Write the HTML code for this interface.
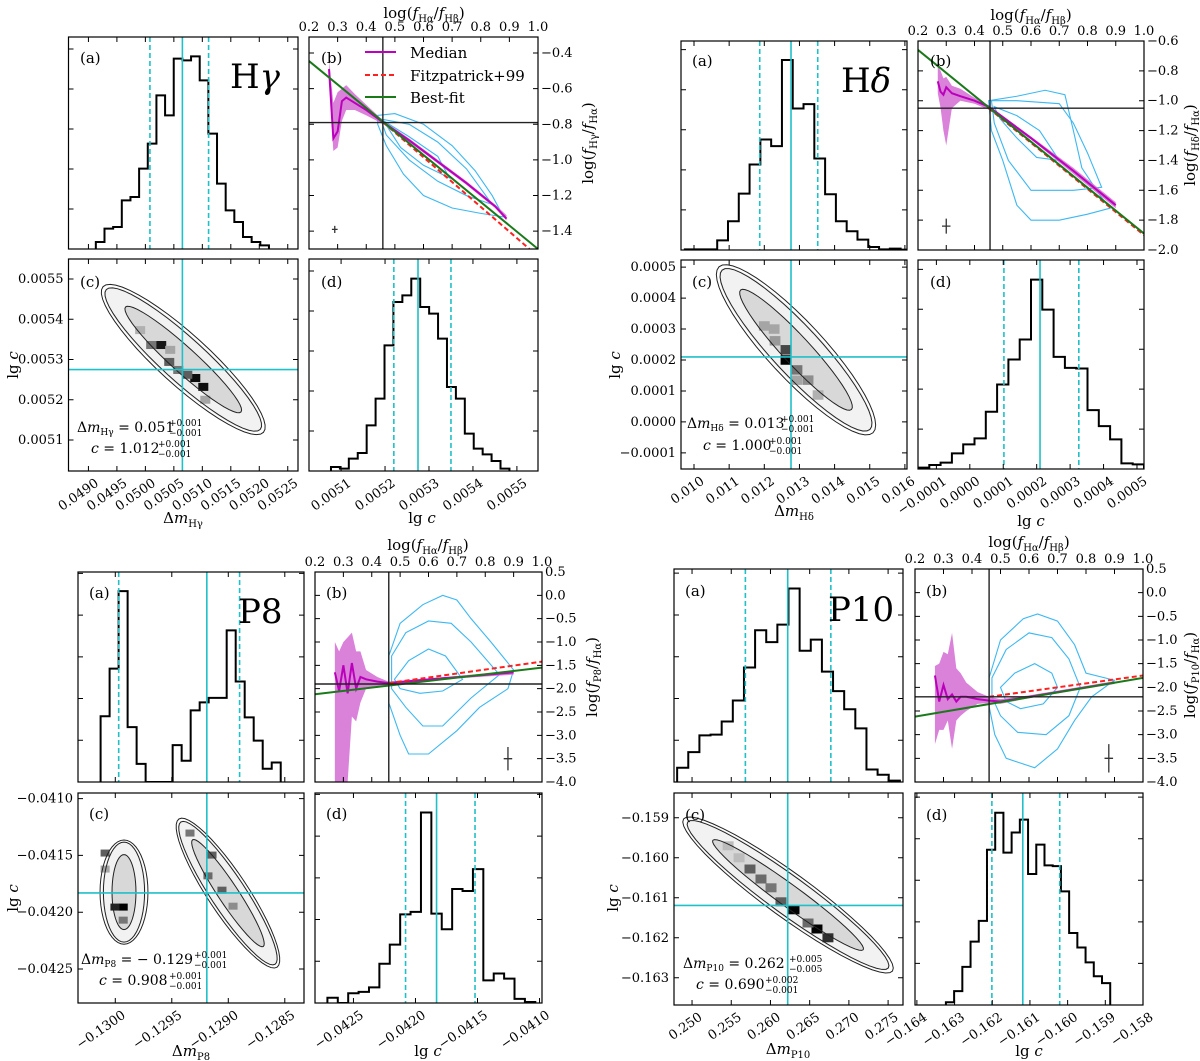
<!DOCTYPE html>
<html><head><meta charset="utf-8"><style>
html,body{margin:0;padding:0;background:#fff;}
svg{display:block;font-family:"DejaVu Serif","Liberation Serif",serif;}
</style></head><body>
<svg id="chart" width="1200" height="1061" viewBox="0 0 1200 1061" xmlns="http://www.w3.org/2000/svg">
<rect x="0" y="0" width="1200" height="1061" fill="#fff"/>
<g id="marks"></g>
<g font-size="15" fill="#000">
 <text x="80" y="63">(a)</text>
 <text x="321" y="63">(b)</text>
 <text x="80" y="287">(c)</text>
 <text x="321" y="287">(d)</text>
 <text x="692" y="66">(a)</text>
 <text x="930" y="66">(b)</text>
 <text x="692" y="287">(c)</text>
 <text x="930" y="287">(d)</text>
 <text x="89" y="598">(a)</text>
 <text x="326" y="598">(b)</text>
 <text x="89" y="819">(c)</text>
 <text x="326" y="819">(d)</text>
 <text x="685" y="596">(a)</text>
 <text x="926" y="596">(b)</text>
 <text x="685" y="820">(c)</text>
 <text x="926" y="820">(d)</text>
 <text x="230" y="88" font-size="34">H<tspan font-style="italic">γ</tspan></text>
 <text x="841" y="92" font-size="34">H<tspan font-style="italic">δ</tspan></text>
 <text x="238" y="623" font-size="34">P8</text>
 <text x="828" y="621" font-size="34">P10</text>
 <text x="77" y="432" font-size="14">Δ<tspan font-style="italic">m</tspan><tspan font-size="9" dy="3">Hγ</tspan><tspan dy="-3"> = 0.051</tspan></text>
 <text x="169" y="426" font-size="9"><tspan>+0.001</tspan><tspan x="169" dy="10">−0.001</tspan></text>
 <text x="91" y="453" font-size="14"><tspan font-style="italic">c</tspan> = 1.012</text>
 <text x="158" y="447" font-size="9"><tspan>+0.001</tspan><tspan x="158" dy="10">−0.001</tspan></text>
 <text x="687" y="428" font-size="14">Δ<tspan font-style="italic">m</tspan><tspan font-size="9" dy="3">Hδ</tspan><tspan dy="-3"> = 0.013</tspan></text>
 <text x="781" y="422" font-size="9"><tspan>+0.001</tspan><tspan x="781" dy="10">−0.001</tspan></text>
 <text x="703" y="450" font-size="14"><tspan font-style="italic">c</tspan> = 1.000</text>
 <text x="769" y="444" font-size="9"><tspan>+0.001</tspan><tspan x="769" dy="10">−0.001</tspan></text>
 <text x="81" y="964" font-size="14">Δ<tspan font-style="italic">m</tspan><tspan font-size="9" dy="3">P8</tspan><tspan dy="-3"> = − 0.129</tspan></text>
 <text x="194" y="958" font-size="9"><tspan>+0.001</tspan><tspan x="194" dy="10">−0.001</tspan></text>
 <text x="99" y="985" font-size="14"><tspan font-style="italic">c</tspan> = 0.908</text>
 <text x="169" y="979" font-size="9"><tspan>+0.001</tspan><tspan x="169" dy="10">−0.001</tspan></text>
 <text x="683" y="968" font-size="14">Δ<tspan font-style="italic">m</tspan><tspan font-size="9" dy="3">P10</tspan><tspan dy="-3"> = 0.262</tspan></text>
 <text x="789" y="962" font-size="9"><tspan>+0.005</tspan><tspan x="789" dy="10">−0.005</tspan></text>
 <text x="696" y="989" font-size="14"><tspan font-style="italic">c</tspan> = 0.690</text>
 <text x="765" y="983" font-size="9"><tspan>+0.002</tspan><tspan x="765" dy="10">−0.001</tspan></text>
 <g font-size="15" text-anchor="middle">
  <text x="183" y="523">Δ<tspan font-style="italic">m</tspan><tspan font-size="10" dy="4">Hγ</tspan></text>
  <text x="422" y="523">lg <tspan font-style="italic">c</tspan></text>
  <text x="794" y="516">Δ<tspan font-style="italic">m</tspan><tspan font-size="10" dy="4">Hδ</tspan></text>
  <text x="1031" y="526">lg <tspan font-style="italic">c</tspan></text>
  <text x="191" y="1056">Δ<tspan font-style="italic">m</tspan><tspan font-size="10" dy="4">P8</tspan></text>
  <text x="428" y="1056">lg <tspan font-style="italic">c</tspan></text>
  <text x="788" y="1054">Δ<tspan font-style="italic">m</tspan><tspan font-size="10" dy="4">P10</tspan></text>
  <text x="1029" y="1056">lg <tspan font-style="italic">c</tspan></text>
  <text x="424" y="18">log(<tspan font-style="italic">f</tspan><tspan font-size="10" dy="4">Hα</tspan><tspan dy="-4">/</tspan><tspan font-style="italic">f</tspan><tspan font-size="10" dy="4">Hβ</tspan><tspan dy="-4">)</tspan></text>
  <text x="1031" y="20">log(<tspan font-style="italic">f</tspan><tspan font-size="10" dy="4">Hα</tspan><tspan dy="-4">/</tspan><tspan font-style="italic">f</tspan><tspan font-size="10" dy="4">Hβ</tspan><tspan dy="-4">)</tspan></text>
  <text x="428" y="550">log(<tspan font-style="italic">f</tspan><tspan font-size="10" dy="4">Hα</tspan><tspan dy="-4">/</tspan><tspan font-style="italic">f</tspan><tspan font-size="10" dy="4">Hβ</tspan><tspan dy="-4">)</tspan></text>
  <text x="1029" y="547">log(<tspan font-style="italic">f</tspan><tspan font-size="10" dy="4">Hα</tspan><tspan dy="-4">/</tspan><tspan font-style="italic">f</tspan><tspan font-size="10" dy="4">Hβ</tspan><tspan dy="-4">)</tspan></text>
  <text transform="translate(18,365) rotate(-90)">lg <tspan font-style="italic">c</tspan></text>
  <text transform="translate(620,365) rotate(-90)">lg <tspan font-style="italic">c</tspan></text>
  <text transform="translate(18,898) rotate(-90)">lg <tspan font-style="italic">c</tspan></text>
  <text transform="translate(618,898) rotate(-90)">lg <tspan font-style="italic">c</tspan></text>
  <text transform="translate(593,143) rotate(-90)">log(<tspan font-style="italic">f</tspan><tspan font-size="10" dy="4">Hγ</tspan><tspan dy="-4">/</tspan><tspan font-style="italic">f</tspan><tspan font-size="10" dy="4">Hα</tspan><tspan dy="-4">)</tspan></text>
  <text transform="translate(1195,145) rotate(-90)">log(<tspan font-style="italic">f</tspan><tspan font-size="10" dy="4">Hδ</tspan><tspan dy="-4">/</tspan><tspan font-style="italic">f</tspan><tspan font-size="10" dy="4">Hα</tspan><tspan dy="-4">)</tspan></text>
  <text transform="translate(597,677) rotate(-90)">log(<tspan font-style="italic">f</tspan><tspan font-size="10" dy="4">P8</tspan><tspan dy="-4">/</tspan><tspan font-style="italic">f</tspan><tspan font-size="10" dy="4">Hα</tspan><tspan dy="-4">)</tspan></text>
  <text transform="translate(1195,675) rotate(-90)">log(<tspan font-style="italic">f</tspan><tspan font-size="10" dy="4">P10</tspan><tspan dy="-4">/</tspan><tspan font-style="italic">f</tspan><tspan font-size="10" dy="4">Hα</tspan><tspan dy="-4">)</tspan></text>
 </g>
 <g>
  <line x1="365" y1="52" x2="396" y2="52" stroke="#c000c0" stroke-width="2"/>
  <text x="410" y="58" font-size="15">Median</text>
  <line x1="365" y1="75" x2="396" y2="75" stroke="#ff2020" stroke-width="2" stroke-dasharray="5,3"/>
  <text x="410" y="81" font-size="15">Fitzpatrick+99</text>
  <line x1="365" y1="97" x2="396" y2="97" stroke="#1a7a1a" stroke-width="2"/>
  <text x="410" y="103" font-size="15">Best-fit</text>
 </g>
</g>
</svg>
<script>
// ===== DATA =====
const q1AxRange=[0.04865,0.05268];
const q1HistAStart=0.04913, q1HistAWidth=0.000152;
const q1HistACounts=[21,61,66,146,156,241,316,461,401,571,566,578,506,346,196,116,81,36,21,11];
const q1QuantA=[0.05008,0.05065,0.05111];
const q1AxTicks=[0.0490,0.0495,0.0500,0.0505,0.0510,0.0515,0.0520,0.0525];
const q1DxRange=[0.005027,0.005548];
const q1HistDStart=0.005077, q1HistDWidth=0.0000203;
const q1HistDCounts=[12,7,37,54,137,217,377,507,527,577,492,472,397,252,217,112,67,50,30,7];
const q1QuantD=[0.005220,0.005275,0.005350];
const q1DTicks=[0.0051,0.0052,0.0053,0.0054,0.0055];
const q1CyRange=[0.005023,0.0055497];
const q1CellX=[0.050278,0.050419,0.050876,0.051017,0.050736,0.050102,0.050577,0.050436,0.051052,0.049908];
const q1CellY=[0.005336,0.005294,0.005254,0.005232,0.005262,0.005336,0.005274,0.005324,0.005200,0.005373];
const q1CellV=[0.9,0.6,0.95,0.95,0.6,0.5,0.5,0.3,0.3,0.25];
const q1Blob=[[0.050665,0.0053,0.001408,-0.000181,0.000299,0.000046]];
const q1ByRange=[-1.50,-0.31];
const q1ByTicks=[-1.4,-1.2,-1.0,-0.8,-0.6,-0.4];
const q1Cross=[0.458,-0.79];
const q1MedX=[0.27,0.285,0.30,0.315,0.33,0.36,0.40,0.46,0.55,0.65,0.75,0.85,0.89];
const q1MedY=[-0.49,-0.88,-0.84,-0.67,-0.65,-0.68,-0.72,-0.79,-0.89,-1.01,-1.13,-1.26,-1.33];
const q1BandHi=[-0.44,-0.68,-0.62,-0.60,-0.58,-0.63,-0.69,-0.78,-0.88,-1.0,-1.12,-1.25,-1.31];
const q1BandLo=[-0.55,-0.95,-0.93,-0.78,-0.72,-0.72,-0.75,-0.80,-0.90,-1.02,-1.14,-1.27,-1.34];
const q1Fit=[[0.2,-0.445],[1.0,-1.5]];
const q1Fitz=[[0.46,-0.79],[0.97,-1.5]];
const q1Err=[0.29,-1.39,0.01,0.02];
const q1Cont=[
 [[0.44,-0.75],[0.5,-0.74],[0.6,-0.80],[0.7,-0.92],[0.78,-1.06],[0.84,-1.2],[0.88,-1.32],[0.8,-1.3],[0.7,-1.27],[0.6,-1.2],[0.53,-1.08],[0.47,-0.92],[0.44,-0.8]],
 [[0.45,-0.77],[0.55,-0.8],[0.65,-0.9],[0.75,-1.05],[0.84,-1.25],[0.75,-1.2],[0.65,-1.12],[0.55,-1.0],[0.47,-0.86]],
 [[0.46,-0.78],[0.55,-0.87],[0.65,-0.98],[0.69,-1.1],[0.6,-1.03],[0.52,-0.93]]];
const q2AxRange=[0.00963,0.01606];
const q2HistAStart=0.009739, q2HistAWidth=0.000307;
const q2HistACounts=[2,2,2,29,86,169,256,331,311,569,424,437,274,167,86,56,31,9,2,4,1];
const q2QuantA=[0.01187,0.01276,0.01352];
const q2AxTicks=[0.010,0.011,0.012,0.013,0.014,0.015,0.016];
const q2DxRange=[-0.000155,0.000521];
const q2HistDStart=-0.000155, q2HistDWidth=0.0000338;
const q2HistDCounts=[4,12,19,47,74,92,172,254,329,389,569,479,337,304,302,177,129,89,17,14];
const q2QuantD=[0.000102,0.000210,0.000326];
const q2DTicks=[-0.0001,0.0,0.0001,0.0002,0.0003,0.0004,0.0005];
const q2CyRange=[-0.000152,0.000523];
const q2CellX=[0.012617,0.012617,0.01293,0.012305,0.013245,0.012,0.01353,0.01293,0.01228];
const q2CellY=[0.000200,0.000233,0.000168,0.000262,0.000135,0.000310,0.000087,0.000135,0.00030];
const q2CellV=[1,0.7,0.5,0.35,0.4,0.3,0.25,0.3,0.3];
const q2Blob=[[0.012902,0.000233,0.00219,-0.000268,0.000583,0.0000613]];
const q2ByRange=[-2.0,-0.6];
const q2ByTicks=[-2.0,-1.8,-1.6,-1.4,-1.2,-1.0,-0.8,-0.6];
const q2Cross=[0.455,-1.05];
const q2MedX=[0.27,0.28,0.29,0.30,0.32,0.35,0.40,0.45,0.60,0.75,0.90];
const q2MedY=[-0.87,-0.94,-0.96,-0.91,-0.95,-0.97,-1.0,-1.04,-1.25,-1.47,-1.7];
const q2BandHi=[-0.77,-0.80,-0.85,-0.84,-0.90,-0.92,-0.98,-1.03,-1.24,-1.45,-1.68];
const q2BandLo=[-0.95,-1.05,-1.2,-1.3,-1.05,-1.0,-1.02,-1.06,-1.26,-1.49,-1.72];
const q2Fit=[[0.2,-0.66],[1.0,-1.89]];
const q2Fitz=[[0.45,-1.05],[1.0,-1.9]];
const q2Err=[0.3,-1.84,0.015,0.05];
const q2Cont=[
 [[0.45,-1.0],[0.55,-0.97],[0.65,-0.93],[0.72,-0.96],[0.75,-1.2],[0.78,-1.45],[0.85,-1.65],[0.88,-1.72],[0.8,-1.76],[0.7,-1.8],[0.6,-1.8],[0.55,-1.7],[0.5,-1.4],[0.46,-1.2]],
 [[0.46,-1.0],[0.55,-1.0],[0.7,-1.02],[0.75,-1.15],[0.8,-1.35],[0.85,-1.58],[0.75,-1.6],[0.6,-1.6],[0.52,-1.4],[0.47,-1.15]],
 [[0.47,-1.04],[0.55,-1.1],[0.63,-1.2],[0.7,-1.4],[0.62,-1.38],[0.55,-1.25],[0.49,-1.12]]];
const q3AxRange=[-0.13033,-0.12833];
const q3HistAStart=-0.13013, q3HistAWidth=0.0000797;
const q3HistACounts=[189,326,549,158,52,0,0,0,106,61,206,229,242,242,436,289,186,119,38,56];
const q3QuantA=[-0.12997,-0.12919,-0.12890];
const q3AxTicks=[-0.1300,-0.1295,-0.1290,-0.1285];
const q3DxRange=[-0.04281,-0.04098];
const q3HistDStart=-0.04271, q3HistDWidth=0.0000838;
const q3HistDCounts=[15,0,28,32,45,113,168,255,262,548,257,212,328,322,385,65,85,70,12,3];
const q3QuantD=[-0.04208,-0.04183,-0.04152];
const q3DTicks=[-0.0425,-0.0420,-0.0415,-0.0410];
const q3CyRange=[-0.0428,-0.04095];
const q3CellX=[-0.12993,-0.130003,-0.13009,-0.12993,-0.12918,-0.129144,-0.129056,-0.128958,-0.129339,-0.13009];
const q3CellY=[-0.041955,-0.041955,-0.041479,-0.04207,-0.04168,-0.041497,-0.041806,-0.041947,-0.041303,-0.04162];
const q3CellV=[1,0.85,0.6,0.5,0.55,0.6,0.6,0.4,0.5,0.3];
const q3Blob=[[-0.129923,-0.041823,0,0.000459,0.000212,0],[-0.129003,-0.041832,0.000434,-0.000653,0.000148,0.000097]];
const q3ByRange=[-4.0,0.5];
const q3ByTicks=[-4.0,-3.5,-3.0,-2.5,-2.0,-1.5,-1.0,-0.5,0.0,0.5];
const q3Cross=[0.46,-1.9];
const q3MedX=[0.27,0.285,0.30,0.315,0.33,0.345,0.36,0.38,0.42,0.46,0.6,0.75,0.9];
const q3MedY=[-1.65,-2.05,-1.5,-2.1,-1.45,-2.0,-1.75,-1.8,-1.85,-1.88,-1.8,-1.73,-1.65];
const q3BandHi=[-1.0,-1.2,-1.0,-0.9,-0.8,-1.2,-1.2,-1.6,-1.75,-1.85,-1.78,-1.7,-1.62];
const q3BandLo=[-4,-4,-4,-4,-2.6,-2.7,-2.3,-2.0,-1.95,-1.92,-1.83,-1.76,-1.7];
const q3Fit=[[0.2,-2.12],[1.0,-1.55]];
const q3Fitz=[[0.46,-1.88],[1.0,-1.42]];
const q3Err=[0.88,-3.5,0.015,0.25];
const q3Cont=[
 [[0.46,-1.3],[0.5,-0.6],[0.58,-0.2],[0.65,0.0],[0.7,-0.1],[0.75,-0.5],[0.82,-1.0],[0.9,-1.6],[0.88,-2.0],[0.78,-2.4],[0.7,-2.9],[0.6,-3.4],[0.53,-3.4],[0.5,-3.0],[0.46,-2.3]],
 [[0.47,-1.3],[0.52,-0.8],[0.6,-0.55],[0.68,-0.6],[0.75,-1.0],[0.85,-1.7],[0.75,-2.2],[0.65,-2.8],[0.58,-2.8],[0.52,-2.4],[0.47,-2.0]],
 [[0.48,-1.8],[0.53,-1.4],[0.6,-1.15],[0.66,-1.3],[0.72,-1.8],[0.65,-2.05],[0.57,-2.1],[0.5,-2.0]]];
const q4AxRange=[0.2477,0.2769];
const q4HistAStart=0.2481, q4HistAWidth=0.00142;
const q4HistACounts=[41,86,134,136,174,234,329,436,402,452,556,377,409,317,261,209,154,36,21,4];
const q4QuantA=[0.2568,0.2622,0.2677];
const q4AxTicks=[0.250,0.255,0.260,0.265,0.270,0.275];
const q4DxRange=[-0.16405,-0.158];
const q4HistDStart=-0.16323, q4HistDWidth=0.000218;
const q4HistDCounts=[8,40,110,183,243,448,555,440,498,535,378,463,403,401,328,208,166,123,83,63];
const q4QuantD=[-0.16201,-0.16119,-0.16021];
const q4DTicks=[-0.164,-0.163,-0.162,-0.161,-0.160,-0.159,-0.158];
const q4CyTicks=[-0.163,-0.162,-0.161,-0.160,-0.159];
const q4CyRange=[-0.16368,-0.15838];
const q4CellX=[0.2630,0.26593,0.26733,0.25739,0.25879,0.26007,0.26134,0.26479,0.2546,0.2560];
const q4CellY=[-0.1613,-0.16178,-0.16200,-0.16028,-0.16053,-0.16075,-0.1611,-0.16163,-0.1597,-0.1600];
const q4CellV=[1,1,0.8,0.6,0.55,0.5,0.6,0.55,0.2,0.2];
const q4Blob=[[0.26224,-0.16093,0.01332,-0.0019,0.001658,0.000445]];
const q4ByRange=[-4.0,0.5];
const q4ByTicks=[-4.0,-3.5,-3.0,-2.5,-2.0,-1.5,-1.0,-0.5,0.0,0.5];
const q4Cross=[0.46,-2.2];
const q4MedX=[0.27,0.285,0.30,0.315,0.33,0.345,0.36,0.38,0.42,0.46,0.5,0.6,0.75,0.9];
const q4MedY=[-1.75,-2.3,-1.95,-2.25,-2.15,-2.3,-2.2,-2.2,-2.25,-2.28,-2.3,-2.2,-2.05,-1.9];
const q4BandHi=[-1.55,-1.5,-1.25,-1.3,-0.85,-1.6,-1.7,-1.9,-2.1,-2.2,-2.25,-2.17,-2.02,-1.87];
const q4BandLo=[-3.2,-2.9,-2.9,-2.7,-3.3,-2.7,-2.6,-2.5,-2.35,-2.33,-2.35,-2.23,-2.08,-1.93];
const q4Fit=[[0.2,-2.62],[1.0,-1.8]];
const q4Fitz=[[0.46,-2.2],[1.0,-1.75]];
const q4Err=[0.88,-3.5,0.015,0.3];
const q4Cont=[
 [[0.46,-1.8],[0.5,-1.0],[0.58,-0.55],[0.63,-0.45],[0.7,-0.6],[0.76,-1.1],[0.8,-1.7],[0.9,-1.85],[0.82,-2.2],[0.76,-2.7],[0.7,-3.3],[0.62,-3.7],[0.52,-3.5],[0.48,-3.0],[0.46,-2.4]],
 [[0.47,-1.8],[0.52,-1.2],[0.6,-0.85],[0.68,-0.95],[0.74,-1.4],[0.78,-2.0],[0.74,-2.6],[0.66,-3.0],[0.56,-2.95],[0.5,-2.6],[0.47,-2.2]],
 [[0.5,-2.0],[0.55,-1.7],[0.62,-1.5],[0.68,-1.7],[0.7,-2.0],[0.65,-2.35],[0.57,-2.45],[0.52,-2.3]]];
const bxRange=[0.2,1.0];
const bxTicks=[0.2,0.3,0.4,0.5,0.6,0.7,0.8,0.9,1.0];

const quads=[
 {name:'hgamma',box:{a:[68.5,37,298,249],b:[309,37,538,249],c:[68.5,259,298,471],d:[309,259,538,471]},
  ax:q1AxRange,hAS:q1HistAStart,hAW:q1HistAWidth,hAC:q1HistACounts,qa:q1QuantA,axT:q1AxTicks,axDec:4,aMax:636,
  dx:q1DxRange,hDS:q1HistDStart,hDW:q1HistDWidth,hDC:q1HistDCounts,qd:q1QuantD,dT:q1DTicks,dDec:4,dMax:636,
  cy:q1CyRange,cyT:q1DTicks,cx:q1CellX,cyy:q1CellY,cv:q1CellV,cw:0.000176,ch:0.0000199,blob:q1Blob,
  by:q1ByRange,byT:q1ByTicks,cross:q1Cross,mx:q1MedX,my:q1MedY,bh:q1BandHi,bl:q1BandLo,fit:q1Fit,fitz:q1Fitz,err:q1Err,cont:q1Cont,byDec:1},
 {name:'hdelta',box:{a:[681,41,907,250],b:[918,41,1144,250],c:[681,260,907,469],d:[918,260,1144,469]},
  ax:q2AxRange,hAS:q2HistAStart,hAW:q2HistAWidth,hAC:q2HistACounts,qa:q2QuantA,axT:q2AxTicks,axDec:3,aMax:626,
  dx:q2DxRange,hDS:q2HistDStart,hDW:q2HistDWidth,hDC:q2HistDCounts,qd:q2QuantD,dT:q2DTicks,dDec:4,dMax:628,
  cy:q2CyRange,cyT:q2DTicks,cx:q2CellX,cyy:q2CellY,cv:q2CellV,cw:0.000307,ch:0.0000306,blob:q2Blob,
  by:q2ByRange,byT:q2ByTicks,cross:q2Cross,mx:q2MedX,my:q2MedY,bh:q2BandHi,bl:q2BandLo,fit:q2Fit,fitz:q2Fitz,err:q2Err,cont:q2Cont,byDec:1},
 {name:'p8',box:{a:[78,572,304,782],b:[315,572,542,782],c:[78,793,304,1003],d:[315,793,542,1003]},
  ax:q3AxRange,hAS:q3HistAStart,hAW:q3HistAWidth,hAC:q3HistACounts,qa:q3QuantA,axT:q3AxTicks,axDec:4,aMax:604,
  dx:q3DxRange,hDS:q3HistDStart,hDW:q3HistDWidth,hDC:q3HistDCounts,qd:q3QuantD,dT:q3DTicks,dDec:4,dMax:604,
  cy:q3CyRange,cyT:q3DTicks,cx:q3CellX,cyy:q3CellY,cv:q3CellV,cw:0.00008,ch:0.0000617,blob:q3Blob,
  by:q3ByRange,byT:q3ByTicks,cross:q3Cross,mx:q3MedX,my:q3MedY,bh:q3BandHi,bl:q3BandLo,fit:q3Fit,fitz:q3Fitz,err:q3Err,cont:q3Cont,byDec:1},
 {name:'p10',box:{a:[674,569,903,782],b:[915,569,1143,782],c:[674,793,903,1005],d:[915,793,1143,1005]},
  ax:q4AxRange,hAS:q4HistAStart,hAW:q4HistAWidth,hAC:q4HistACounts,qa:q4QuantA,axT:q4AxTicks,axDec:3,aMax:612,
  dx:q4DxRange,hDS:q4HistDStart,hDW:q4HistDWidth,hDC:q4HistDCounts,qd:q4QuantD,dT:q4DTicks,dDec:3,dMax:612,
  cy:q4CyRange,cyT:q4CyTicks,cx:q4CellX,cyy:q4CellY,cv:q4CellV,cw:0.0014,ch:0.000225,blob:q4Blob,
  by:q4ByRange,byT:q4ByTicks,cross:q4Cross,mx:q4MedX,my:q4MedY,bh:q4BandHi,bl:q4BandLo,fit:q4Fit,fitz:q4Fitz,err:q4Err,cont:q4Cont,byDec:1}
];

const NS='http://www.w3.org/2000/svg';
const root=document.getElementById('marks');
const CYAN='#1fc0c8', CBLUE='#3cb8f2';
let clipN=0;
function mk(tag,attrs,parent){const e=document.createElementNS(NS,tag);for(const k in attrs)e.setAttribute(k,attrs[k]);(parent||root).appendChild(e);return e;}
function scales(box,xr,yr){return {x:v=>box[0]+(v-xr[0])/(xr[1]-xr[0])*(box[2]-box[0]),y:v=>box[3]-(v-yr[0])/(yr[1]-yr[0])*(box[3]-box[1])};}
function fmt(v,dec){const s=Math.abs(v).toFixed(dec);return (v<0&&parseFloat(s)!==0?'−':'')+s;}
function panelGroup(box,name){
  const id='clip'+(clipN++);
  const cp=mk('clipPath',{id});
  mk('rect',{x:box[0],y:box[1],width:box[2]-box[0],height:box[3]-box[1]},cp);
  const g=mk('g',{'clip-path':`url(#${id})`});
  
  
  return g;
}
function frame(box){
  const r=mk('rect',{x:box[0],y:box[1],width:box[2]-box[0],height:box[3]-box[1],fill:'none',stroke:'#000','stroke-width':1.2});
  
  
}
function xticks(box,s,vals){
  vals.forEach(v=>{const x=s.x(v);if(x<box[0]-0.5||x>box[2]+0.5)return;
    const t=mk('path',{d:`M${x},${box[3]}v-5M${x},${box[1]}v5`,stroke:'#000','stroke-width':1});
    
    });
}
function yticks(box,s,vals){
  vals.forEach(v=>{const y=s.y(v);if(y<box[1]-0.5||y>box[3]+0.5)return;
    const t=mk('path',{d:`M${box[0]},${y}h5M${box[2]},${y}h-5`,stroke:'#000','stroke-width':1});
    
    });
}
function rotLabels(box,s,vals,dec){
  vals.forEach(v=>{const x=s.x(v);
    const t=mk('text',{transform:`translate(${x+11},${box[3]+14}) rotate(-35)`,'text-anchor':'end','font-size':13});
    t.textContent=fmt(v,dec);
    
    });
}
function vline(g,box,x,dash,name){
  const l=mk('line',{x1:x,x2:x,y1:box[1],y2:box[3],stroke:CYAN,'stroke-width':1.6},g);
  if(dash)l.setAttribute('stroke-dasharray','5,3');
  
  
}
function hist(g,s,start,w,counts){
  let d=`M${s.x(start)},${s.y(0)}`;
  counts.forEach((c,i)=>{d+=`L${s.x(start+i*w)},${s.y(c)}L${s.x(start+(i+1)*w)},${s.y(c)}`;});
  d+=`L${s.x(start+counts.length*w)},${s.y(0)}`;
  const p=mk('path',{d,fill:'none',stroke:'#000','stroke-width':2},g);
  
  
}
function ellipsePath(s,b,su,sv){
  let d='';
  for(let i=0;i<=48;i++){const t=i/48*2*Math.PI;
    const X=b[0]+Math.cos(t)*b[2]*su+Math.sin(t)*b[4]*sv;
    const Y=b[1]+Math.cos(t)*b[3]*su+Math.sin(t)*b[5]*sv;
    d+=(i?'L':'M')+s.x(X)+','+s.y(Y);}
  return d+'Z';
}
function countTicks(max){const a=[];for(let v=0;v<=max;v+=120)a.push(v);return a;}

quads.forEach(q=>{
  const A=q.box.a, sa=scales(A,q.ax,[0,q.aMax]);
  const ga=panelGroup(A,'panel-a-'+q.name);
  hist(ga,sa,q.hAS,q.hAW,q.hAC);
  vline(ga,A,sa.x(q.qa[0]),true,'quantile-16-line');
  vline(ga,A,sa.x(q.qa[1]),false,'median-line');
  vline(ga,A,sa.x(q.qa[2]),true,'quantile-84-line');
  frame(A); xticks(A,sa,q.axT); yticks(A,sa,countTicks(q.aMax));
  const D=q.box.d, sd=scales(D,q.dx,[0,q.dMax]);
  const gd=panelGroup(D,'panel-d-'+q.name);
  hist(gd,sd,q.hDS,q.hDW,q.hDC);
  vline(gd,D,sd.x(q.qd[0]),true,'quantile-16-line');
  vline(gd,D,sd.x(q.qd[1]),false,'median-line');
  vline(gd,D,sd.x(q.qd[2]),true,'quantile-84-line');
  frame(D); xticks(D,sd,q.dT); yticks(D,sd,countTicks(q.dMax)); rotLabels(D,sd,q.dT,q.dDec);
  const C=q.box.c, sc=scales(C,q.ax,q.cy);
  const gc=panelGroup(C,'panel-c-'+q.name);
  q.blob.forEach(b=>{
    const f1=mk('path',{d:ellipsePath(sc,b,0.97,0.92),fill:'#f2f2f2',stroke:'none'},gc);
    
    
    const f2=mk('path',{d:ellipsePath(sc,b,0.72,0.5),fill:'#d8d8d8',stroke:'none'},gc);
    
    
  });
  q.cx.forEach((cx,i)=>{
    const x0=sc.x(cx-q.cw/2),x1=sc.x(cx+q.cw/2),y0=sc.y(q.cyy[i]+q.ch/2),y1=sc.y(q.cyy[i]-q.ch/2);
    const g=Math.round(235*(1-q.cv[i]));
    const r=mk('rect',{x:Math.min(x0,x1),y:y0,width:Math.abs(x1-x0),height:y1-y0,fill:`rgb(${g},${g},${g})`},gc);
    
    
  });
  q.blob.forEach(b=>{
    [[1,1],[0.96,0.86],[0.72,0.5]].forEach(sf=>{
      const c=mk('path',{d:ellipsePath(sc,b,sf[0],sf[1]),fill:'none',stroke:'#222','stroke-width':1},gc);
      
      
    });
  });
  vline(gc,C,sc.x(q.qa[1]),false,'best-delta-m-line');
  const hl=mk('line',{x1:C[0],x2:C[2],y1:sc.y(q.qd[1]),y2:sc.y(q.qd[1]),stroke:CYAN,'stroke-width':1.6},gc);
  
  
  frame(C); xticks(C,sc,q.axT); yticks(C,sc,q.cyT); rotLabels(C,sc,q.axT,q.axDec);
  q.cyT.forEach(v=>{const t=mk('text',{x:C[0]-5,y:sc.y(v)+4,'text-anchor':'end','font-size':13});
    t.textContent=fmt(v,q.dDec);
    
    });
  const B=q.box.b, sb=scales(B,bxRange,q.by);
  const gb=panelGroup(B,'panel-b-'+q.name);
  q.cont.forEach(poly=>{
    const d=poly.map((p,i)=>(i?'L':'M')+sb.x(p[0])+','+sb.y(p[1])).join('')+'Z';
    const c=mk('path',{d,fill:'none',stroke:CBLUE,'stroke-width':1.1},gb);
    
    
  });
  let bd=q.mx.map((x,i)=>(i?'L':'M')+sb.x(x)+','+sb.y(q.bh[i])).join('');
  for(let i=q.mx.length-1;i>=0;i--)bd+='L'+sb.x(q.mx[i])+','+sb.y(q.bl[i]);
  const band=mk('path',{d:bd+'Z',fill:'#d46bd4','fill-opacity':0.85,stroke:'none'},gb);
  
  
  const med=mk('path',{d:q.mx.map((x,i)=>(i?'L':'M')+sb.x(x)+','+sb.y(q.my[i])).join(''),fill:'none',stroke:'#bb00bb','stroke-width':2},gb);
  
  
  const fz=mk('line',{x1:sb.x(q.fitz[0][0]),y1:sb.y(q.fitz[0][1]),x2:sb.x(q.fitz[1][0]),y2:sb.y(q.fitz[1][1]),stroke:'#ff2020','stroke-width':2,'stroke-dasharray':'5,3'},gb);
  
  
  const bf=mk('line',{x1:sb.x(q.fit[0][0]),y1:sb.y(q.fit[0][1]),x2:sb.x(q.fit[1][0]),y2:sb.y(q.fit[1][1]),stroke:'#1a7a1a','stroke-width':2},gb);
  
  
  const cv=mk('line',{x1:sb.x(q.cross[0]),x2:sb.x(q.cross[0]),y1:B[1],y2:B[3],stroke:'#222','stroke-width':1.4},gb);
  
  
  const ch=mk('line',{x1:B[0],x2:B[2],y1:sb.y(q.cross[1]),y2:sb.y(q.cross[1]),stroke:'#222','stroke-width':1.4},gb);
  
  
  const e=q.err;
  const eb=mk('path',{d:`M${sb.x(e[0]-e[2])},${sb.y(e[1])}H${sb.x(e[0]+e[2])}M${sb.x(e[0])},${sb.y(e[1]-e[3])}V${sb.y(e[1]+e[3])}`,stroke:'#333','stroke-width':1.3},gb);
  
  
  frame(B); xticks(B,sb,bxTicks); yticks(B,sb,q.byT);
  bxTicks.forEach(v=>{const t=mk('text',{x:sb.x(v),y:B[1]-6,'text-anchor':'middle','font-size':13});
    t.textContent=v.toFixed(1);
    
    });
  q.byT.forEach(v=>{const t=mk('text',{x:B[2]+3,y:sb.y(v)+4,'text-anchor':'start','font-size':13});
    t.textContent=fmt(v,q.byDec);
    
    });
});
</script>
</body></html>
